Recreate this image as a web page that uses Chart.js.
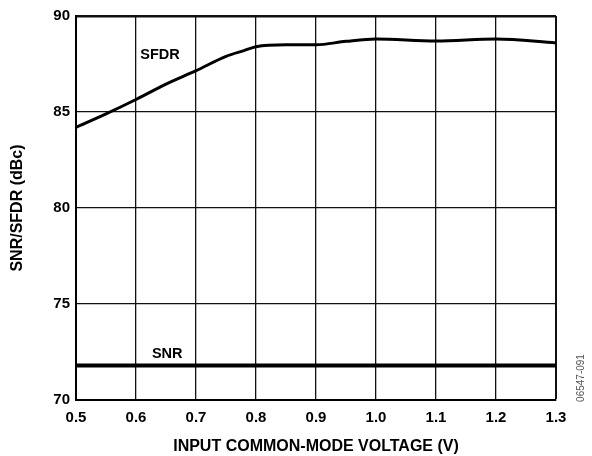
<!DOCTYPE html>
<html>
<head>
<meta charset="utf-8">
<script src="https://cdn.jsdelivr.net/npm/chart.js@4"></script>
<style>
  body { margin: 0; background: #fff; }
  #wrap { width: 592px; height: 456px; position: relative; }
</style>
</head>
<body>
<div id="wrap"><canvas id="grafico" width="592" height="456"></canvas></div>
<script>
// datos
const voltaje = [0.5, 0.55, 0.6, 0.65, 0.7, 0.75, 0.78, 0.8, 0.85, 0.9, 0.95, 1.0, 1.1, 1.2, 1.3];
const sfdr = [84.2, 84.9, 85.65, 86.45, 87.15, 87.9, 88.2, 88.4, 88.5, 88.5, 88.68, 88.8, 88.7, 88.8, 88.6];
const snrX = [0.5, 1.3];
const snr = [71.8, 71.8];
const xTicks = [0.5, 0.6, 0.7, 0.8, 0.9, 1.0, 1.1, 1.2, 1.3];
const yTicks = [70, 75, 80, 85, 90];

const familia = '"Liberation Sans", Arial, sans-serif';

const etiquetas = {
  id: 'etiquetas',
  afterDatasetsDraw(chart) {
    const { ctx, scales: { x, y } } = chart;
    ctx.save();
    ctx.fillStyle = '#000';
    ctx.font = 'bold 14.5px ' + familia;
    ctx.textAlign = 'center';
    ctx.textBaseline = 'middle';
    ctx.fillText('SFDR', x.getPixelForValue(0.64), y.getPixelForValue(87.95));
    ctx.fillText('SNR', x.getPixelForValue(0.652), y.getPixelForValue(72.4));
    // codigo de figura
    ctx.translate(581, 378);
    ctx.rotate(-Math.PI / 2);
    ctx.font = '10px ' + familia;
    ctx.fillStyle = '#555';
    ctx.fillText('06547-091', 0, 0);
    ctx.restore();
  }
};

new Chart(document.getElementById('grafico'), {
  type: 'line',
  data: {
    datasets: [
      {
        label: 'SFDR',
        data: voltaje.map((v, i) => ({ x: v, y: sfdr[i] })),
        borderColor: '#000',
        borderWidth: 3,
        pointRadius: 0,
        cubicInterpolationMode: 'monotone',
        fill: false
      },
      {
        label: 'SNR',
        data: snrX.map((v, i) => ({ x: v, y: snr[i] })),
        borderColor: '#000',
        borderWidth: 4,
        pointRadius: 0,
        fill: false
      }
    ]
  },
  plugins: [etiquetas],
  options: {
    responsive: false,
    animation: false,
    layout: { padding: { left: 0, top: 16, right: 36, bottom: 0 } },
    plugins: { legend: { display: false }, tooltip: { enabled: false } },
    scales: {
      x: {
        type: 'linear',
        min: 0.5,
        max: 1.3,
        afterBuildTicks: (s) => { s.ticks = xTicks.map(v => ({ value: v })); },
        afterFit: (s) => { s.height = 56; },
        border: { color: '#000', width: 2 },
        grid: {
          color: '#111',
          lineWidth: (c) => (c.index === xTicks.length - 1 ? 2 : 1.3),
          drawTicks: false
        },
        ticks: {
          color: '#000',
          font: { family: familia, size: 15, weight: 'bold' },
          padding: 9,
          maxRotation: 0,
          callback: (v) => v.toFixed(1)
        },
        title: {
          display: true,
          text: 'INPUT COMMON-MODE VOLTAGE (V)',
          color: '#000',
          font: { family: familia, size: 16, weight: 'bold' },
          padding: { top: 0, bottom: 0 }
        }
      },
      y: {
        min: 70,
        max: 90,
        afterBuildTicks: (s) => { s.ticks = yTicks.map(v => ({ value: v })); },
        afterFit: (s) => { s.width = 76; },
        border: { color: '#000', width: 2 },
        grid: {
          color: '#111',
          lineWidth: (c) => (c.index === yTicks.length - 1 ? 2.5 : 1.3),
          drawTicks: false
        },
        ticks: {
          color: '#000',
          font: { family: familia, size: 15, weight: 'bold' },
          padding: 6
        },
        title: {
          display: true,
          text: 'SNR/SFDR (dBc)',
          color: '#000',
          font: { family: familia, size: 16, weight: 'bold' },
          padding: { top: 8, bottom: 0 }
        }
      }
    }
  }
});
</script>
</body>
</html>
